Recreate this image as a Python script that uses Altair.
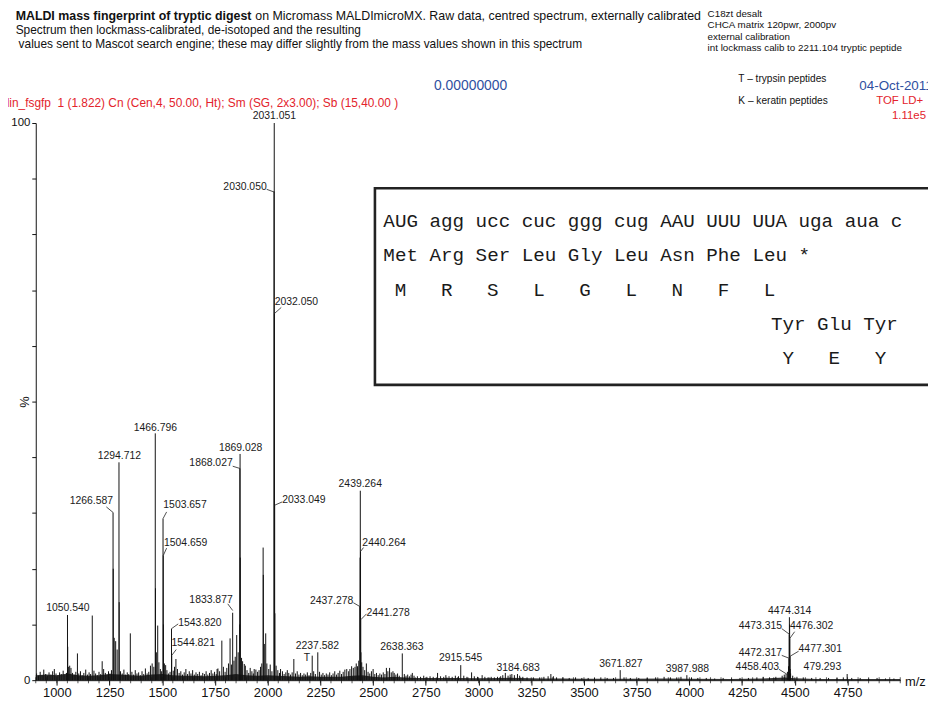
import altair as alt
import pandas as pd

NB = "\u00a0"

# ---------------- data ----------------
peak_mz = [2031.051, 2030.050, 2032.050, 2033.049, 2034.05,
           1466.796, 1467.80, 1294.712, 1295.71,
           1869.028, 1868.027, 1870.03, 1867.03,
           1266.587, 1267.59, 1503.657, 1504.659, 1505.66,
           1978.4, 1979.4, 1990.6,
           2437.278, 2438.27, 2439.264, 2440.264, 2441.278, 2442.28,
           1050.540, 1051.54, 1833.877, 1543.820, 1544.821,
           4474.314, 4473.315, 4475.31, 4476.302, 4472.317, 4477.301, 4478.3, 4458.403,
           2237.582, 2211.104, 2638.363, 2915.545, 3184.683, 3671.827, 3987.988, 4748.3,
           1097.6, 1168.0, 1215.0, 1348.5, 1478.4, 1516.0, 1564.7, 1782.5, 1821.6,
           1853.0, 1881.0, 1917.0, 2124.0, 2414.0, 2578.0, 2805.6, 2845.0, 2967.0,
           3017.0, 3127.0, 3158.0, 3343.0, 1889.0, 1936.0, 1959.0, 2061.0, 2093.0,
           2375.0, 2398.0, 2468.0, 2500.0, 2563.0, 2594.0, 2686.0, 1760.0]
peak_pct = [100.0, 87.7, 65.8, 31.4, 12.0,
            44.3, 16.5, 39.1, 14.0,
            40.6, 38.0, 22.0, 10.0,
            30.1, 20.0, 29.0, 22.4, 10.0,
            23.8, 18.9, 8.4,
            13.2, 22.0, 34.0, 23.1, 10.9, 5.0,
            11.7, 6.0, 12.1, 9.25, 4.45,
            11.3, 8.2, 10.0, 7.5, 3.9, 4.3, 2.0, 1.1,
            5.0, 4.4, 4.8, 2.7, 1.1, 1.8, 0.9, 1.1,
            4.8, 11.6, 3.4, 8.4, 9.8, 2.7, 3.8, 7.1, 7.5,
            8.1, 3.4, 2.2, 3.8, 2.4, 2.2, 1.3, 0.9, 1.4,
            0.9, 1.3, 1.1, 1.1, 2.9, 2.0, 1.8, 2.0, 1.8,
            2.0, 2.5, 3.0, 2.0, 2.2, 1.6, 1.3, 2.0]

spike_mz = [904, 913, 921, 930, 938, 947, 955, 963, 972, 980, 988, 996,
            1005, 1013, 1021, 1030, 1038, 1046, 1056, 1061, 1067, 1074, 1082, 1090, 1104,
            1112, 1120, 1128, 1137, 1145, 1153, 1160, 1176, 1184, 1192,
            1200, 1208, 1222, 1230, 1238, 1245, 1252, 1259, 1272, 1279, 1286, 1302,
            1310, 1318, 1326, 1334, 1341, 1356, 1364, 1372, 1380, 1388, 1396,
            1404, 1412, 1420, 1428, 1436, 1444, 1452, 1460, 1472, 1484, 1491, 1497,
            1510, 1522, 1530, 1537, 1552, 1558, 1572, 1580, 1588, 1596,
            1604, 1612, 1620, 1628, 1636, 1644, 1652, 1660, 1668, 1676, 1684, 1692,
            1700, 1708, 1716, 1724, 1732, 1740, 1748, 1756, 1764, 1772, 1790, 1798,
            1806, 1814, 1828, 1840, 1846, 1860, 1876, 1894,
            1902, 1910, 1925, 1932, 1944, 1952, 1966, 1972, 1984, 1996,
            2005, 2012, 2020, 2040, 2048, 2056, 2070, 2078, 2086, 2100,
            2108, 2116, 2132, 2140, 2148, 2156, 2164, 2172, 2180, 2188, 2196,
            2204, 2218, 2226, 2246, 2254, 2262, 2270, 2278, 2286, 2294,
            2302, 2310, 2318, 2326, 2334, 2342, 2350, 2358, 2366, 2384, 2390,
            2406, 2420, 2426, 2432, 2446, 2452, 2460, 2476, 2484, 2492,
            2508, 2516, 2524, 2532, 2540, 2548, 2556, 2570, 2586, 2600,
            2608, 2616, 2624, 2648, 2656, 2664, 2672, 2680, 2694,
            2710, 2725, 2740, 2755, 2770, 2785, 2820, 2835, 2860, 2875, 2890, 2905,
            2930, 2945, 2980, 2995, 3030, 3045, 3060, 3075, 3090, 3105, 3115, 3140,
            3150, 3170, 3195, 3210, 3230, 3260, 3290, 3310, 3330, 3355, 3370, 3400,
            3430, 3460, 3490, 3520, 3550, 3580, 3610, 3640, 3690, 3720, 3760, 3800,
            3840, 3880, 3910, 3940, 3960, 4010, 4040, 4080, 4120, 4160, 4200, 4240,
            4280, 4320, 4350, 4380, 4410, 4440, 4450, 4465, 4470, 4480, 4490, 4510,
            4540, 4580, 4620, 4660, 4700, 4730, 4770, 4810, 4850, 4890, 4930, 4970]
spike_pct = [1.2, 0.8, 1.5, 0.9, 1.9, 1.1, 0.8, 1.4, 1.0, 1.6, 2.0, 1.2,
             0.9, 1.4, 1.1, 1.7, 0.9, 1.3, 2.4, 2.6, 2.2, 1.3, 1.0, 1.5, 1.2,
             1.6, 0.9, 1.3, 1.9, 1.0, 1.4, 1.1, 1.7, 1.2, 0.9,
             1.5, 1.1, 2.0, 1.3, 1.0, 1.6, 1.2, 1.8, 7.6, 7.0, 5.5, 1.6,
             1.2, 1.9, 1.0, 1.4, 1.1, 1.5, 1.0, 1.8, 1.2, 1.4, 0.9,
             1.6, 1.1, 2.1, 1.2, 1.5, 2.6, 3.0, 2.4, 5.0, 3.2, 2.0, 1.6,
             3.0, 1.8, 1.2, 1.5, 1.7, 2.4, 2.0, 1.3, 1.6, 1.0,
             1.4, 2.0, 1.1, 1.6, 1.2, 1.8, 1.0, 1.4, 1.1, 1.5, 0.9, 1.3,
             1.1, 1.6, 1.0, 1.3, 1.8, 1.2, 1.5, 1.1, 2.1, 1.6, 2.4, 1.5,
             2.2, 3.0, 2.8, 3.5, 4.2, 5.0, 4.0, 2.6,
             1.8, 1.3, 1.6, 1.2, 1.9, 1.5, 2.4, 3.0, 6.5, 3.0,
             2.0, 2.8, 1.6, 2.6, 1.8, 1.3, 1.6, 1.1, 1.4, 1.3,
             1.0, 1.4, 1.2, 1.6, 1.0, 1.3, 0.9, 1.2, 1.0, 1.4, 0.9,
             1.3, 1.6, 1.1, 1.5, 1.0, 1.3, 0.9, 1.2, 1.0, 1.4,
             0.9, 1.2, 1.6, 1.0, 1.3, 1.7, 1.1, 1.5, 1.9, 1.6, 2.0,
             2.2, 3.0, 2.5, 3.5, 3.2, 2.4, 1.8, 1.5, 1.2, 1.6,
             1.1, 1.3, 0.9, 1.2, 1.0, 1.4, 1.1, 1.6, 1.4, 1.3,
             1.0, 1.2, 0.8, 1.1, 0.8, 1.0, 0.7, 1.0, 0.8,
             0.7, 0.6, 0.8, 0.6, 0.7, 0.6, 0.7, 0.6, 0.7, 0.6, 0.8, 0.7,
             0.8, 0.6, 0.7, 0.6, 0.6, 0.5, 0.6, 0.5, 0.6, 0.7, 0.9, 0.8,
             1.0, 0.9, 0.8, 0.6, 0.5, 0.5, 0.5, 0.6, 0.7, 0.7, 0.5, 0.5,
             0.4, 0.5, 0.4, 0.4, 0.4, 0.5, 0.4, 0.4, 0.5, 0.4, 0.4, 0.4,
             0.5, 0.6, 0.5, 0.5, 0.6, 0.5, 0.4, 0.4, 0.3, 0.4, 0.3, 0.4,
             0.4, 0.5, 0.6, 0.5, 0.6, 0.8, 1.0, 1.5, 2.5, 1.2, 0.8, 0.6,
             0.5, 0.4, 0.4, 0.4, 0.4, 0.5, 0.4, 0.4, 0.3, 0.4, 0.3, 0.3]

base_mz = [900, 950, 1000, 1050, 1100, 1150, 1200, 1250, 1300, 1350, 1400, 1450,
           1500, 1550, 1600, 1650, 1700, 1750, 1800, 1850, 1900, 1950, 2000, 2050,
           2100, 2150, 2200, 2250, 2300, 2350, 2400, 2450, 2500, 2550, 2600, 2650,
           2700, 2800, 2900, 3000, 3100, 3150, 3200, 3300, 3400, 3500, 3700, 3900,
           4000, 4200, 4350, 4450, 4500, 4600, 4800, 5000]
base_pct = [0.9, 1.0, 0.9, 1.2, 0.9, 0.8, 0.9, 1.1, 1.0, 0.9, 0.8, 1.0,
            1.1, 0.9, 0.8, 0.8, 0.7, 0.8, 0.9, 1.1, 0.9, 0.8, 0.9, 0.8,
            0.7, 0.6, 0.7, 0.6, 0.6, 0.6, 0.8, 0.9, 0.6, 0.5, 0.6, 0.5,
            0.4, 0.4, 0.4, 0.35, 0.4, 0.45, 0.4, 0.3, 0.3, 0.25, 0.25, 0.3,
            0.25, 0.2, 0.3, 0.5, 0.35, 0.2, 0.2, 0.2]

# peak annotations: text, anchor m/z, anchor %
labels_center = [("2031.051", 2031.5, 101.25), ("1869.028", 1871.7, 41.6),
                 ("1466.796", 1467.5, 45.3), ("1294.712", 1296.8, 40.2),
                 ("1050.540", 1052.4, 12.9), ("2439.264", 2439.0, 35.2),
                 ("2237.582", 2236.0, 6.05), ("T", 2186.6, 3.9),
                 ("2638.363", 2636.9, 5.87), ("2915.545", 2915.2, 3.9),
                 ("3184.683", 3187.8, 2.19), ("3671.827", 3675.2, 2.9),
                 ("3987.988", 3990.1, 2.0), ("4474.314", 4475.7, 12.4),
                 ("479.293", 4630.8, 2.31)]
labels_right = [("2030.050", 1995.3, 88.6), ("1868.027", 1834.1, 39.0),
                ("1266.587", 1266.7, 32.1), ("1833.877", 1834.1, 14.3),
                ("2437.278", 2406.2, 14.2), ("4473.315", 4439.5, 9.73),
                ("4472.317", 4439.5, 4.8), ("4458.403", 4424.8, 2.31)]
labels_left = [("2032.050", 2032.9, 67.85), ("2033.049", 2069.1, 32.4),
               ("1503.657", 1505.0, 31.4), ("1504.659", 1508.3, 24.7),
               ("1543.820", 1575.6, 10.3), ("1544.821", 1544.1, 6.6),
               ("2440.264", 2449.0, 24.6), ("2441.278", 2468.6, 12.1),
               ("4476.302", 4477.1, 9.73), ("4477.301", 4517.9, 5.57)]

# leader lines (m/z1, %1, m/z2, %2)
leaders = [(1995.3, 88.1, 2031.5, 87.6), (2031.9, 65.8, 2064.4, 66.9),
           (2033.0, 31.4, 2069.1, 32.0), (1834.1, 38.4, 1868.4, 38.0),
           (1234.8, 31.1, 1266.7, 30.1), (1503.7, 29.0, 1520.6, 30.2),
           (1505.0, 22.4, 1520.6, 23.7), (1810.6, 13.7, 1834.1, 12.5),
           (1544.1, 9.25, 1575.6, 10.1), (1545.0, 4.45, 1566.2, 5.5),
           (2440.4, 23.1, 2454.5, 23.8), (2406.2, 13.9, 2438.1, 13.2),
           (2441.4, 10.85, 2468.6, 11.9), (4438.1, 9.25, 4475.7, 8.2),
           (4475.7, 7.47, 4499.2, 8.7), (4438.1, 4.45, 4475.7, 3.9),
           (4478.0, 4.3, 4518.0, 5.2), (4424.8, 1.96, 4462.4, 1.07)]

x_ticks = [1000, 1250, 1500, 1750, 2000, 2250, 2500, 2750, 3000, 3250, 3500,
           3750, 4000, 4250, 4500, 4750]
minor_ticks = list(range(900, 5001, 50))
y_ticks = [0, 10, 20, 30, 40, 50, 60, 70, 80, 90, 100]

# inset box (m/z and % coordinates)
box = {"x": 2508.6, "x2": 5400.0, "y": 88.3, "y2": 53.0}
# text, start m/z, %
box_lines = [
    ("AUG agg ucc cuc ggg cug AAU UUU UUA uga aua c", 2548.5, 82.4),
    ("Met Arg Ser Leu Gly Leu Asn Phe Leu *", 2548.5, 76.3),
    ("M   R   S   L   G   L   N   F   L", 2602.9, 70.1),
    ("Tyr Glu Tyr", 4387.0, 64.0),
    ("Y   E   Y", 4441.4, 57.8),
]

# ---------------- chart ----------------
FONT = "Liberation Sans"
INK = "#111111"
RED = "#e3232c"
BLUE = "#2f4f9f"

xscale = alt.Scale(domain=[900, 5000], nice=False, zero=False)
yscale = alt.Scale(domain=[0, 100], nice=False, zero=False)

xaxis = alt.Axis(values=x_ticks, format="d", labelFont=FONT, labelFontSize=13,
                 labelColor=INK, tickSize=5, tickColor=INK, domainColor=INK,
                 grid=False, title=None, labelPadding=1, labelFlush=False)
yaxis = alt.Axis(values=y_ticks,
                 labelExpr="datum.value == 0 || datum.value == 100 ? datum.label : ''",
                 labelFont=FONT, labelFontSize=11.5, labelColor=INK, tickSize=4,
                 tickColor=INK, domainColor=INK, grid=False, labelPadding=2,
                 title="%", titleFont=FONT, titleFontSize=13, titleFontWeight="normal",
                 titleColor=INK, titleX=-4, titleY=281)


def X(field):
    return alt.X(field, scale=xscale, axis=xaxis)


def Y(field):
    return alt.Y(field, scale=yscale, axis=yaxis)


peaks_df = pd.DataFrame({"mz": peak_mz + spike_mz,
                         "pct": peak_pct + spike_pct})
peaks_df["zero"] = 0.0

base_df = pd.DataFrame({"mz": base_mz, "pct": base_pct})

baseline = alt.Chart(base_df).mark_area(color=INK, opacity=0.85).encode(
    x=X("mz:Q"), y=Y("pct:Q"))

sticks = alt.Chart(peaks_df).mark_rule(color=INK, strokeWidth=1).encode(
    x=X("mz:Q"), y=Y("pct:Q"), y2="zero:Q")

minor_df = pd.DataFrame({"mz": minor_ticks, "pct": [0.0] * len(minor_ticks)})
minor = alt.Chart(minor_df).mark_tick(color=INK, size=6, thickness=1,
                                      orient="vertical").encode(
    x=X("mz:Q"), y=Y("pct:Q"))

lead_df = pd.DataFrame(leaders, columns=["mz", "pct", "mz2", "pct2"])
leads = alt.Chart(lead_df).mark_rule(color="#222222", strokeWidth=0.8).encode(
    x=X("mz:Q"), y=Y("pct:Q"), x2="mz2:Q", y2="pct2:Q")


def label_layer(items, align):
    df = pd.DataFrame(items, columns=["t", "mz", "pct"])
    return alt.Chart(df).mark_text(align=align, baseline="middle", font=FONT,
                                   fontSize=10.5, color="#1a1a1a").encode(
        x=X("mz:Q"), y=Y("pct:Q"), text="t:N")


box_df = pd.DataFrame([box])
box_layer = alt.Chart(box_df).mark_rect(filled=False, stroke="#222222",
                                        strokeWidth=2.6).encode(
    x=X("x:Q"), x2="x2:Q", y=Y("y:Q"), y2="y2:Q")

box_txt_df = pd.DataFrame({"t": [s.replace(" ", NB) for s, _, _ in box_lines],
                           "mz": [m for _, m, _ in box_lines],
                           "pct": [p for _, _, p in box_lines]})
box_text = alt.Chart(box_txt_df).mark_text(align="left", baseline="middle",
                                           font="Liberation Mono", fontSize=19.4,
                                           color="#1a1a1a").encode(
    x=X("mz:Q"), y=Y("pct:Q"), text="t:N")

# header / annotation texts in pixel positions relative to the plot origin
OX, OY = 36.3, 121.0


def ptxt(text, px, py, size, color=INK, weight="normal", align="left"):
    return alt.Chart(pd.DataFrame({"t": [text.replace("  ", NB + NB)]})).mark_text(
        align=align, baseline="middle", font=FONT, fontSize=size, color=color,
        fontWeight=weight).encode(
        x=alt.value(px - OX), y=alt.value(py - OY), text="t:N")


texts = [
    ptxt("MALDI mass fingerprint of tryptic digest", 16, 13, 12.5, weight="bold"),
    ptxt("on Micromass MALDImicroMX. Raw data, centred spectrum, externally calibrated",
         257.8, 13, 12.5),
    ptxt("Spectrum then lockmass-calibrated, de-isotoped and the resulting", 16, 27, 12),
    ptxt("values sent to Mascot search engine; these may differ slightly from the mass values shown in this spectrum",
         19, 41, 12),
    ptxt("C18zt desalt", 714, 11, 9.9),
    ptxt("CHCA matrix 120pwr, 2000pv", 714, 22.5, 9.9),
    ptxt("external calibration", 714, 34, 9.9),
    ptxt("int lockmass calib to 2211.104 tryptic peptide", 714, 45.5, 9.9),
    ptxt("T \u2013 trypsin peptides", 745, 77, 10.2),
    ptxt("K \u2013 keratin peptides", 745, 99, 10.2),
    ptxt("0.00000000", 438, 84, 14, color=BLUE),
    ptxt("04-Oct-2011", 867, 84, 13.5, color=BLUE),
    ptxt("TOF LD+", 884, 99, 11.5, color=RED),
    ptxt("1.11e5", 900, 114, 11.5, color=RED),
    ptxt("lin_fsgfp  1 (1.822) Cn (Cen,4, 50.00, Ht); Sm (SG, 2x3.00); Sb (15,40.00 )",
         7, 101, 12, color=RED),
    ptxt("m/z", 913, 685, 13),
]

chart = alt.layer(
    baseline, sticks, minor, leads,
    label_layer(labels_center, "center"),
    label_layer(labels_right, "right"),
    label_layer(labels_left, "left"),
    box_layer, box_text, *texts,
).properties(
    width=872, height=562,
    autosize=alt.AutoSizeParams(type="none"),
    padding={"left": 28, "top": 113, "right": 28, "bottom": 19},
    background="white",
).configure_view(strokeWidth=0)

chart.save("out.html", embed_options={"renderer": "svg", "actions": False})
